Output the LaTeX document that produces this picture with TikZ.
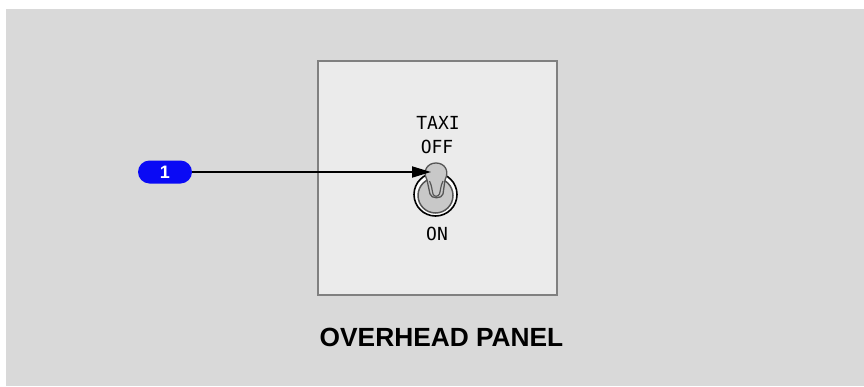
\documentclass[tikz,border=0pt]{standalone}
\usepackage{fontspec}
\setmainfont{Liberation Sans}
\newfontfamily\monof{DejaVu Sans Mono}
\usetikzlibrary{arrows.meta}
\definecolor{bgc}{HTML}{D9D9D9}
\definecolor{panelc}{HTML}{EBEBEB}
\definecolor{borderc}{HTML}{808080}
\definecolor{pillc}{HTML}{0A0AF5}
\definecolor{leverc}{HTML}{C8C8C8}
\definecolor{leverd}{HTML}{555555}
\begin{document}
\begin{tikzpicture}[x=1pt,y=-1pt,
  lbl/.style={font=\monof\fontsize{18}{18}\selectfont, inner sep=0pt, anchor=center},
  pill/.style={fill=pillc, rounded corners=11.5pt, minimum width=54pt, minimum height=23pt, inner sep=0pt, text=white, font=\bfseries\fontsize{18}{18}\selectfont},
  conn/.style={line width=1.8pt, -{Triangle[length=19pt,width=11pt]}}]
\useasboundingbox (0,0) rectangle (864,386);
\fill[bgc] (6,9) rectangle (864,386);
\draw[borderc, line width=2pt, fill=panelc] (318,61) rectangle (557,295);
\node[lbl] (taxi) at (438,123) {TAXI};
\node[lbl] (off) at (437,147) {OFF};
\node[lbl] (on) at (437,234) {ON};
% switch
\draw[black, line width=1.6pt, fill=white] (435.5,194.5) circle (21.5);
\draw[leverd, line width=1.5pt, fill=leverc] (435.5,195.5) circle (17.5);
\draw[leverd, line width=1.3pt, fill=leverc]
  (427,180) .. controls (422,170) and (428,163) .. (436,163)
  .. controls (444,163) and (450,170) .. (445,180)
  -- (443,194) .. controls (442,199) and (431,199) .. (430,194) -- cycle;
\draw[leverd, line width=1.2pt] (429.5,181) .. controls (432,186) and (432,191) .. (433,194)
  .. controls (434,197) and (438,197) .. (439.5,194)
  .. controls (440.5,191) and (440.5,186) .. (443,181);
\node[pill] (n1) at (165,172) {1};
\coordinate (tip) at (431,172);
\draw[conn] (n1.east) -- (tip);
\node[font=\bfseries\fontsize{26.3}{26.3}\selectfont, inner sep=0pt] (title) at (441.5,337) {OVERHEAD PANEL};
\end{tikzpicture}
\end{document}
